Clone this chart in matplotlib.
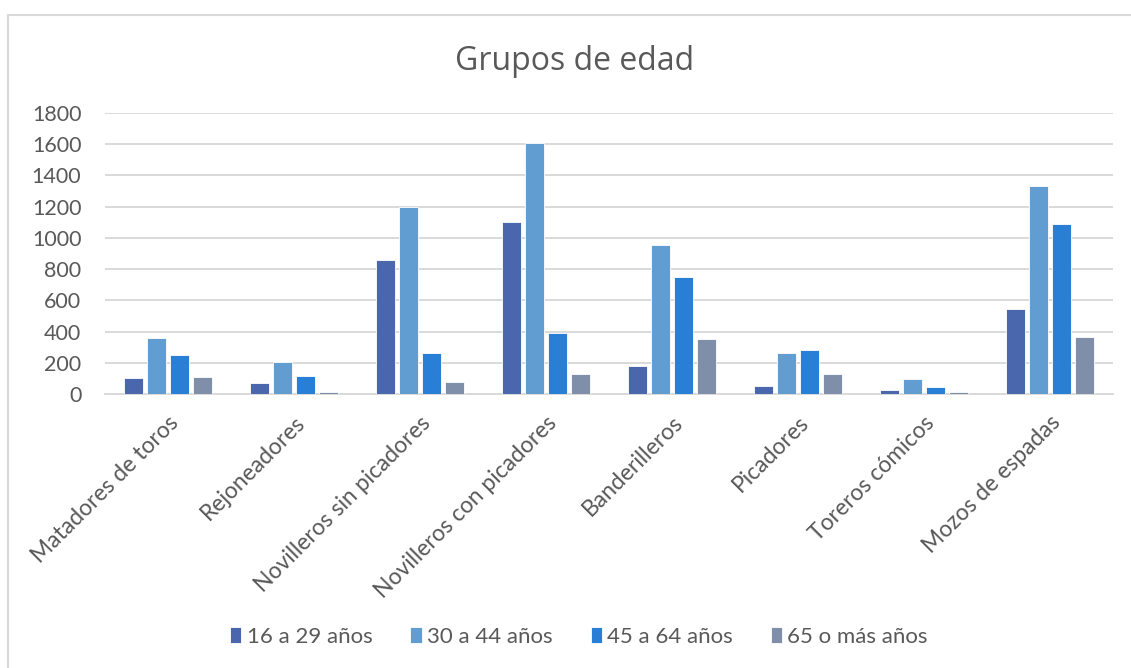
import numpy as np
import matplotlib.pyplot as plt
from matplotlib.patches import Rectangle

# categories and values
categorias = ["Matadores de toros", "Rejoneadores", "Novilleros sin picadores",
              "Novilleros con picadores", "Banderilleros", "Picadores",
              "Toreros cómicos", "Mozos de espadas"]
grupos = ["16 a 29 años", "30 a 44 años", "45 a 64 años", "65 o más años"]
edad_16_29 = [100, 73, 857, 1100, 182, 53, 26, 545]
edad_30_44 = [357, 202, 1197, 1608, 954, 260, 93, 1332]
edad_45_64 = [253, 115, 265, 388, 749, 281, 42, 1086]
edad_65_mas = [112, 14, 80, 128, 352, 128, 16, 367]
colores = ["#4A66AC", "#629DD1", "#297FD5", "#7F8FA9"]
yticks = [0, 200, 400, 600, 800, 1000, 1200, 1400, 1600, 1800]

plt.rcParams['font.family'] = ['Lato', 'DejaVu Sans']
gris = "#595959"

fig = plt.figure(figsize=(11.31, 6.68), dpi=100)
ax = fig.add_axes([105/1131, 1-394/668, 1008/1131, 281/668])

x = np.arange(len(categorias))
paso = 0.1825
series = [edad_16_29, edad_30_44, edad_45_64, edad_65_mas]
for i in range(0, 4):
    ax.bar(x + (i-1.5)*paso, series[i], width=0.15, color=colores[i],
           edgecolor="white", linewidth=0.6, label=grupos[i], zorder=3)

ax.set_xlim(-0.5, len(categorias)-0.5)
ax.set_ylim(0, 1800)
ax.set_yticks(yticks)
ax.yaxis.grid(True, color="#D9D9D9", linewidth=1.4, zorder=0)
ax.set_axisbelow(True)
for s in ["top", "right", "left"]:
    ax.spines[s].set_visible(False)
ax.spines["bottom"].set_color("#D9D9D9")
ax.spines["bottom"].set_linewidth(1.4)
ax.tick_params(axis="y", length=0, pad=17, labelsize=15.5, labelcolor=gris)
ax.tick_params(axis="x", length=0, pad=13, labelsize=16.5, labelcolor=gris)
ax.set_xticks(x)
ax.set_xticklabels(categorias, rotation=45, ha="right", va="top",
                   rotation_mode="anchor")

fig.text(0.508, 1-61/668, "Grupos de edad", ha="center", va="center",
         fontsize=23, color=gris, family=["Open Sans", "DejaVu Sans"])

fig.legend(loc="center", bbox_to_anchor=(0.512, 1-637/668), ncol=4, frameon=False,
           fontsize=16, labelcolor=gris, handlelength=0.5, handleheight=0.7,
           handletextpad=0.25, columnspacing=1.7)

fig.patches.append(Rectangle((8/1131, -0.1), 1.2, 0.1+1-15/668, transform=fig.transFigure,
                             fill=False, edgecolor="#D9D9D9", linewidth=1.5))

fig.savefig("out.png", dpi=100)
